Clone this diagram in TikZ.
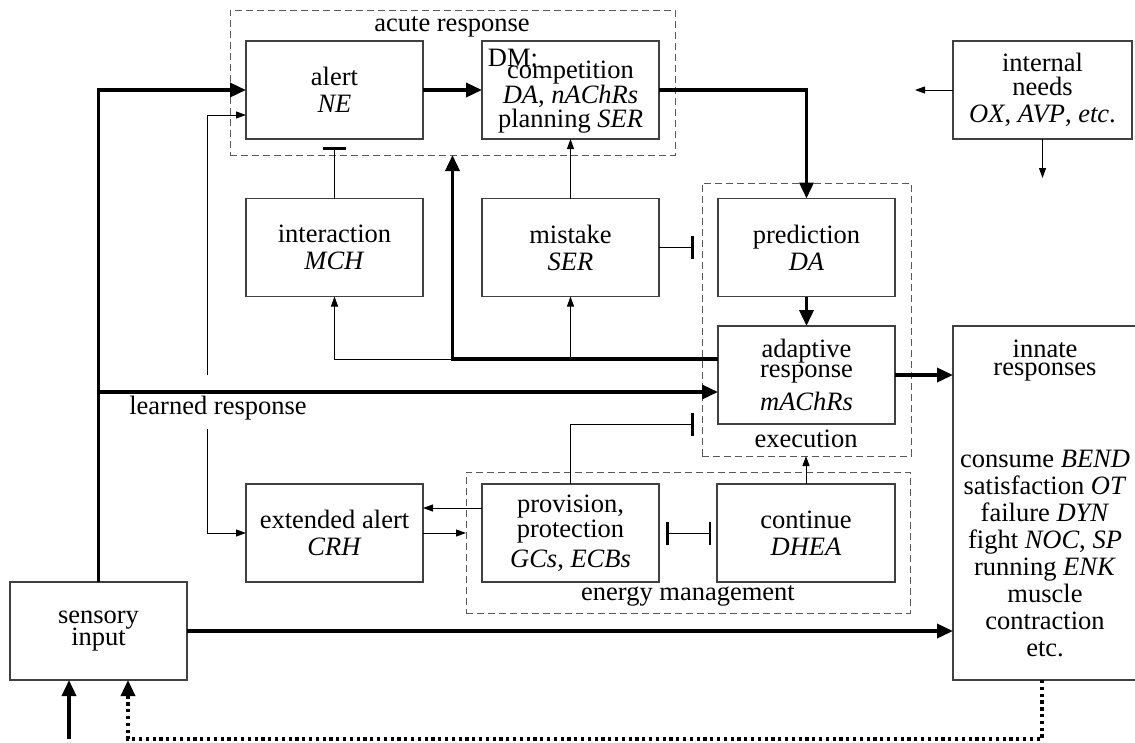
\documentclass[tikz,border=0pt]{standalone}
\usepackage{fontspec}
\setmainfont{Liberation Serif}
\usetikzlibrary{arrows.meta,calc}
\begin{document}
\begin{tikzpicture}[x=1pt,y=-1pt,
  font=\fontsize{26.5}{27}\selectfont,
  box/.style={draw=black!75,line width=1.1pt,minimum width=177pt,minimum height=98pt,inner sep=0pt,outer sep=0pt,align=center},
  grp/.style={draw=black!65,line width=1pt,dash pattern=on 7pt off 4pt,inner sep=0pt,outer sep=0pt},
  thin/.style={line width=1pt,-{Triangle[length=10pt,width=7pt]}},
  thick/.style={line width=3.5pt,-{Triangle[length=16pt,width=14pt]}},
  inh/.style={line width=1pt,-{Bar[width=23pt,line width=3pt]}},
  dotline/.style={line width=3.3pt,dash pattern=on 3.3pt off 3.5pt,-{Triangle[length=16pt,width=14pt]}},
  lbl/.style={inner sep=0pt,align=center}]
\useasboundingbox (0,0) rectangle (1135,742);
% groups
\node[grp,minimum width=445pt,minimum height=145pt] (acute) at (452.5,82.5) {};
\node[grp,minimum width=209pt,minimum height=273pt] (exec) at (806.5,319.5) {};
\node[grp,minimum width=444pt,minimum height=141pt] (energy) at (688,542.5) {};
\node[lbl] (acutelab) at (452,27) {acute response};
\node[lbl] (execlab) at (806,439) {execution};
\node[lbl] (energylab) at (688,596) {energy management};
% boxes
\node[box] (alert) at (334.5,90) {alert\\\textit{NE}};
\node[box] (dm) at (570.5,90) {};
\node[lbl,font=\fontsize{26.5}{23.5}\selectfont] (dmtext) at (570.5,97) {competition\\\textit{DA}, \textit{nAChRs}\\planning \textit{SER}};
\node[lbl] (dmlab) at (513,58) {DM:};
\node[box,minimum width=179pt] (needs) at (1042.5,90) {internal\\[-3pt]needs\\\textit{OX}, \textit{AVP}, \textit{etc}.};
\node[box] (inter) at (334.5,247.5) {interaction\\\textit{MCH}};
\node[box] (mistake) at (570.5,247.5) {mistake\\\textit{SER}};
\node[box] (pred) at (806.5,247.5) {prediction\\\textit{DA}};
\node[box] (adapt) at (806.5,375) {adaptive\\[-7pt]response\\[6pt]\textit{mAChRs}};
\node[box,minimum width=184pt,minimum height=354pt] (innate) at (1045,503) {};
\node[lbl,font=\fontsize{26.5}{18}\selectfont] (innhead) at (1045,361) {innate\\responses};
\node[lbl] (innlist) at (1045,554) {consume \textit{BEND}\\satisfaction \textit{OT}\\failure \textit{DYN}\\fight \textit{NOC}, \textit{SP}\\running \textit{ENK}\\muscle\\contraction\\etc.};
\node[box] (ext) at (334.5,533) {extended alert\\\textit{CRH}};
\node[box] (prov) at (570.5,533) {provision,\\[-2pt]protection\\[3pt]\textit{GCs}, \textit{ECBs}};
\node[box,minimum width=178pt] (cont) at (806,533) {continue\\\textit{DHEA}};
\node[box] (sens) at (98.5,631) {sensory\\[-5pt]input};
\node[lbl] (lr) at (218,408) {learned response};
% coordinates
\coordinate (lrtop) at (207,375);
\coordinate (lrbot) at (207,429);
\coordinate (lrj) at (98.5,392);
\coordinate (needl) at (915,90);
\coordinate (needd) at (1042.5,178);
\coordinate (insrc) at (69,739);
\coordinate (dotc) at (1042,739);
\coordinate (dotl) at (128,739);
\coordinate (fb) at ($(adapt.west)+(0,-16)$);
% connectors
\draw[thick] (sens.north) |- (alert.west);
\draw[thick] (lrj) -- (adapt.west |- lrj);
\draw[thin] (lrtop) |- ($(alert.west)+(0,25)$);
\draw[thin] (lrbot) |- (ext.west);
\draw[thick] (alert) -- (dm);
\draw[thick] (dm.east) -| (pred.north);
\draw[thick] (pred) -- (adapt);
\draw[thick] (adapt.east) -- (adapt.east -| innate.west);
\draw[thick] (fb) -| (acute.south);
\draw[thin] (acute.south |- fb) -| (inter.south);
\draw[thin] (mistake.south |- fb) -- (mistake.south);
\draw[thin] (mistake) -- (dm);
\draw[inh,shorten >=8pt] (inter) -- (alert);
\draw[inh,shorten >=8pt] (mistake.east) -- (mistake.east -| exec.west);
\draw[inh,shorten >=8pt] (prov.north) |- (exec.west |- adapt.south);
\draw[thin] ($(prov.west)+(0,-25)$) -- ($(ext.east)+(0,-25)$);
\draw[thin] (ext.east) -- (ext.east -| energy.west);
\draw[line width=1pt,{Bar[width=23pt,line width=2.5pt]}-{Bar[width=23pt,line width=2.5pt]},shorten <=7pt,shorten >=6pt] (prov) -- (cont);
\draw[thin] (cont.north) -- (cont.north |- exec.south);
\draw[thin] (needs.west) -- (needl);
\draw[thin] (needs.south) -- (needd);
\draw[thick] (sens.east) -- (sens.east -| innate.west);
\draw[thick] (insrc) -- (insrc |- sens.south);
\draw[dotline] (innate.south -| dotc) -- (dotc) -- (dotl) -- (dotl |- sens.south);
\end{tikzpicture}
\end{document}
